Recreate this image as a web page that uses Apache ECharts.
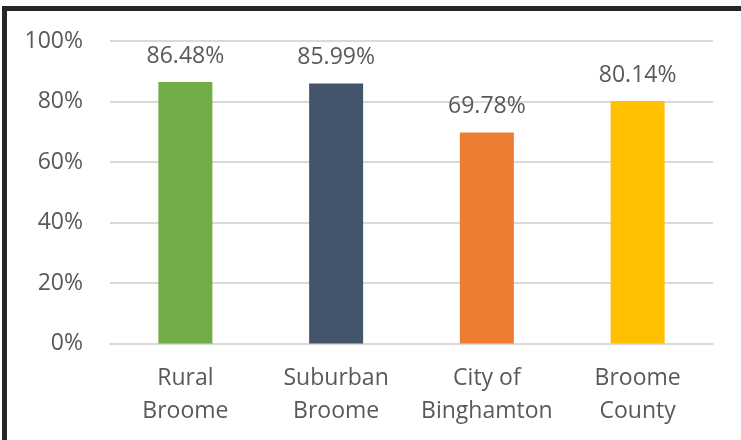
<!DOCTYPE html>
<html>
<head>
<meta charset="utf-8">
<script src="https://cdn.jsdelivr.net/npm/echarts@6/dist/echarts.min.js"></script>
<style>
  html, body { margin: 0; padding: 0; background: #fff; }
  #chart { width: 741px; height: 440px; }
</style>
</head>
<body>
<div id="chart"></div>
<script>
// Share of households by area (percent)
const categories = ['Rural\nBroome', 'Suburban\nBroome', 'City of\nBinghamton', 'Broome\nCounty'];
const values = [86.48, 85.99, 69.78, 80.14];
const barColors = ['#70ad47', '#44546a', '#ed7d31', '#ffc000'];
const yTicks = { min: 0, max: 100, interval: 20 };

const textColor = '#595959';
const fontFamily = '"Open Sans", "Segoe UI", sans-serif';
const fontSize = 23;

const chart = echarts.init(document.getElementById('chart'), null, { renderer: 'canvas' });

chart.setOption({
  backgroundColor: '#ffffff',
  animation: false,
  grid: { left: 110, right: 28, top: 41, bottom: 96.5, containLabel: false },
  xAxis: {
    type: 'category',
    data: categories,
    axisLine: { show: true, lineStyle: { color: '#d9d9d9', width: 2 } },
    axisTick: { show: false },
    axisLabel: {
      color: textColor, fontFamily, fontSize, lineHeight: 33, margin: 18, interval: 0
    }
  },
  yAxis: {
    type: 'value',
    min: yTicks.min,
    max: yTicks.max,
    interval: yTicks.interval,
    axisLine: { show: false },
    axisTick: { show: false },
    splitLine: { lineStyle: { color: '#d9d9d9', width: 2 } },
    axisLabel: {
      color: textColor, fontFamily, fontSize, margin: 27,
      formatter: '{value}%'
    }
  },
  series: [{
    type: 'bar',
    data: values.map((v, i) => ({ value: v, itemStyle: { color: barColors[i] } })),
    barWidth: 54,
    label: {
      show: true,
      position: 'top',
      distance: 14,
      color: textColor,
      fontFamily,
      fontSize,
      formatter: p => p.value.toFixed(2) + '%'
    }
  }],
  graphic: [
    // Frame: top and left edges
    { type: 'line', shape: { x1: 2, y1: 8.5, x2: 741, y2: 8.5 }, style: { stroke: '#262626', lineWidth: 5 } },
    { type: 'line', shape: { x1: 4.5, y1: 6, x2: 4.5, y2: 440 }, style: { stroke: '#262626', lineWidth: 5 } }
  ]
});
</script>
</body>
</html>
